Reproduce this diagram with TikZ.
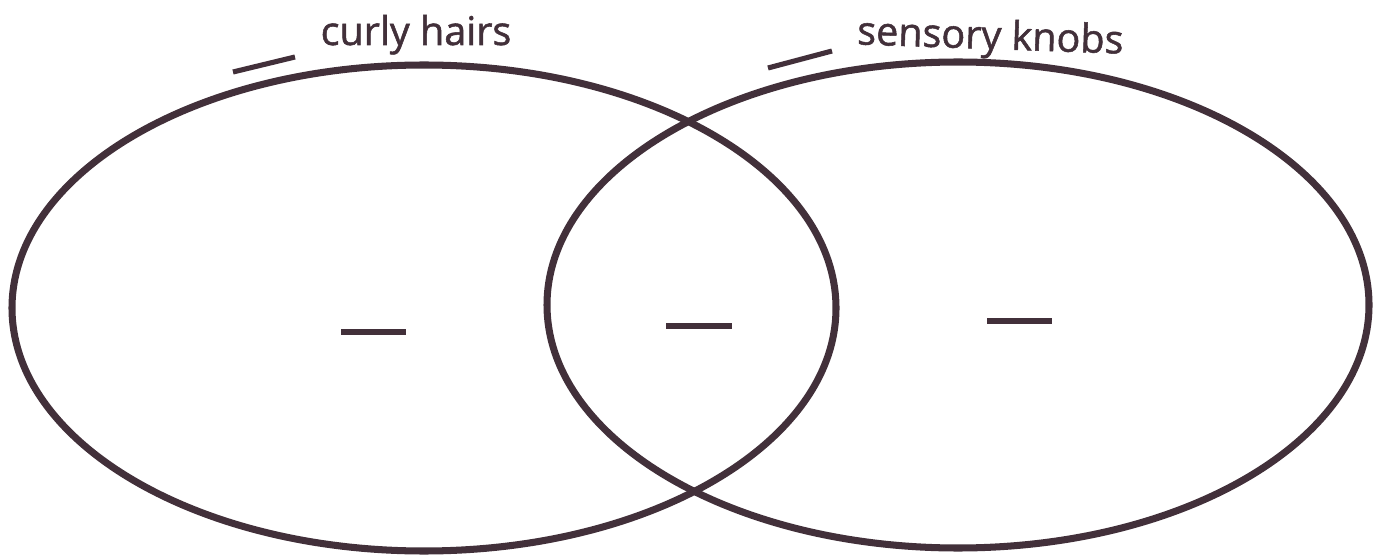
\documentclass[tikz,border=0pt]{standalone}
\usepackage{tikz}
\usepackage{xcolor}
\usepackage{fontspec}
\setmainfont{Open Sans}
\newfontfamily\vdTitleFont[FakeBold=1.3]{Open Sans}
\usetikzlibrary{calc,positioning}
\definecolor{vdInk}{RGB}{66,48,58}
\definecolor{vdPaper}{RGB}{255,255,255}
\newcommand{\vennblank}[2]{%
  \draw[vdInk,line width=2.9pt] #1 -- #2;
}

\begin{document}
\begin{tikzpicture}[x=0.02cm,y=-0.02cm]
  \useasboundingbox[fill=vdPaper] (0,0) rectangle (1383,557);
  % the two sets
  \draw[vdInk,line width=4pt] (424,308) ellipse [x radius=412,y radius=243];
  \draw[vdInk,line width=4pt] (958,305) ellipse [x radius=411,y radius=243];
  % set titles
  \node[anchor=base,font=\vdTitleFont\fontsize{22.5}{26}\selectfont,text=vdInk] (hairs) at (416,45) {curly hairs};
  \node[anchor=base,rotate=-2,font=\vdTitleFont\fontsize{22.5}{26}\selectfont,text=vdInk] (knobs) at (990,49) {sensory knobs};
  \vennblank{(233,72)}{(295,57)}
  \vennblank{(768,68)}{(832,51)}
  % answer blanks
  \vennblank{(341,332)}{(406,332)}
  \vennblank{(666,326)}{(732,326)}
  \vennblank{(987,321)}{(1052,321)}
\end{tikzpicture}
\end{document}
